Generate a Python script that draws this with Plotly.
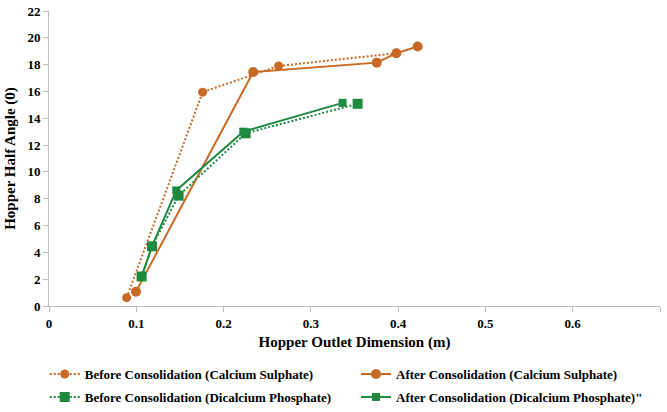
import plotly.graph_objects as go

# Hopper outlet dimension (m) vs hopper half angle
cs_before_x = [0.089, 0.176, 0.263, 0.398]
cs_before_y = [0.62, 15.95, 17.9, 18.85]

cs_after_x = [0.0997, 0.234, 0.3755, 0.398, 0.4223]
cs_after_y = [1.07, 17.45, 18.15, 18.85, 19.35]

dcp_before_x = [0.1061, 0.118, 0.1485, 0.2253, 0.3536]
dcp_before_y = [2.2, 4.45, 8.23, 12.88, 15.08]

dcp_after_x = [0.1061, 0.118, 0.1458, 0.2226, 0.3364]
dcp_after_y = [2.2, 4.45, 8.62, 13.0, 15.15]

x_ticks = [0, 0.1, 0.2, 0.3, 0.4, 0.5, 0.6, 0.7]
x_tick_text = ["0", "0.1", "0.2", "0.3", "0.4", "0.5", "0.6", "0.7"]
y_ticks = list(range(0, 23, 2))

ORANGE = "#C96A24"
GREEN = "#1F8A3F"
FONT = "Liberation Serif"

fig = go.Figure()
# left legend column: "before" series; right column: "after" series
fig.add_trace(go.Scatter(
    x=cs_before_x, y=cs_before_y, mode="lines+markers",
    name="<b>Before Consolidation (Calcium Sulphate)</b>",
    legend="legend", legendgroup="a",
    line=dict(color=ORANGE, width=2, dash="2px,2px"),
    marker=dict(symbol="circle", size=9, color=ORANGE),
))
fig.add_trace(go.Scatter(
    x=cs_after_x, y=cs_after_y, mode="lines+markers",
    name="<b>After Consolidation (Calcium Sulphate)</b>",
    legend="legend2", legendgroup="b",
    line=dict(color=ORANGE, width=2),
    marker=dict(symbol="circle", size=10, color=ORANGE),
))
fig.add_trace(go.Scatter(
    x=dcp_before_x, y=dcp_before_y, mode="lines+markers",
    name="<b>Before Consolidation (Dicalcium Phosphate)</b>",
    legend="legend", legendgroup="c",
    line=dict(color=GREEN, width=2, dash="2px,2px"),
    marker=dict(symbol="square", size=10, color=GREEN),
))
fig.add_trace(go.Scatter(
    x=dcp_after_x, y=dcp_after_y, mode="lines+markers",
    name="<b>After Consolidation (Dicalcium Phosphate)\"</b>",
    legend="legend2", legendgroup="d",
    line=dict(color=GREEN, width=2),
    marker=dict(symbol="square", size=8, color=GREEN),
))

axis_common = dict(
    showgrid=False, zeroline=False, showline=True, linecolor="#BFBFBF", linewidth=1,
    ticks="outside", tickcolor="#BFBFBF", ticklen=5,
    tickfont=dict(family=FONT, size=13, color="#000000"),
)

fig.update_xaxes(
    range=[0, 0.7], tickvals=x_ticks, ticktext=[f"<b>{t}</b>" for t in x_tick_text],
    title=dict(text="<b>Hopper Outlet Dimension (m)</b>",
               font=dict(family=FONT, size=15, color="#000000"), standoff=6),
    **axis_common,
)
fig.update_yaxes(
    range=[0, 22], tickvals=y_ticks, ticktext=[f"<b>{t}</b>" for t in y_ticks],
    title=dict(text="<b>Hopper Half Angle (0)</b>",
               font=dict(family=FONT, size=15, color="#000000"), standoff=8),
    **axis_common,
)

legend_common = dict(
    orientation="v", xanchor="left", y=-0.18, yanchor="top",
    tracegroupgap=3,
    font=dict(family=FONT, size=13, color="#000000"),
    bgcolor="rgba(0,0,0,0)",
)

fig.update_layout(
    width=667, height=412,
    margin=dict(l=49, r=7, t=11, b=106, autoexpand=False),
    paper_bgcolor="white", plot_bgcolor="white",
    font=dict(family=FONT, color="#000000"),
    legend=dict(x=-0.007, **legend_common),
    legend2=dict(x=0.5025, **legend_common),
)

fig.write_html("out.html")
